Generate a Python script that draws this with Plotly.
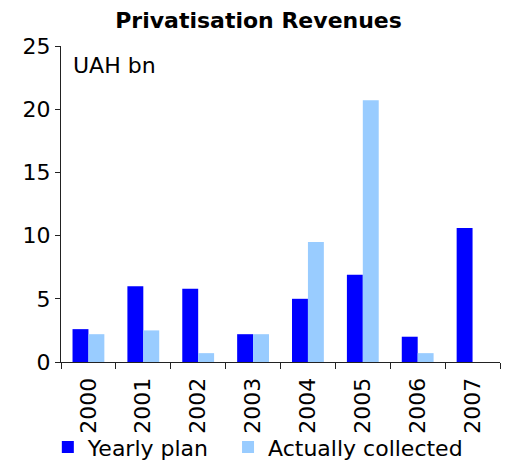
import plotly.graph_objects as go

years = ["2000", "2001", "2002", "2003", "2004", "2005", "2006", "2007"]
yearly_plan = [2.6, 6.0, 5.8, 2.2, 5.0, 6.9, 2.0, 10.6]
actually_collected = [2.2, 2.5, 0.7, 2.2, 9.5, 20.7, 0.7, None]
series_names = ["Yearly plan", "Actually collected"]

FONT = "DejaVu Sans, Verdana, sans-serif"

fig = go.Figure()
# non-breaking spaces widen the first legend entry a little
fig.add_trace(go.Bar(x=years, y=yearly_plan, name=series_names[0] + "\u00a0\u00a0",
                     marker=dict(color="#0000FF", line=dict(width=0))))
fig.add_trace(go.Bar(x=years, y=actually_collected, name=series_names[1],
                     marker=dict(color="#99CCFF", line=dict(width=0))))

fig.update_layout(
    width=507, height=468,
    margin=dict(l=61, r=7, t=46, b=106, autoexpand=False),
    paper_bgcolor="white", plot_bgcolor="white",
    barmode="group", bargap=0.42, bargroupgap=0,
    font=dict(family=FONT, size=22, color="#000000"),
    title=dict(text="<b>Privatisation Revenues</b>", x=0.51, xanchor="center",
               y=1 - 20 / 468, yanchor="middle",
               font=dict(family=FONT, size=22, color="#000000")),
    showlegend=True,
    legend=dict(orientation="h", x=-0.03, xanchor="left", y=-0.336, yanchor="bottom",
                font=dict(family=FONT, size=22), traceorder="normal",
                bgcolor="rgba(0,0,0,0)", itemclick=False),
    annotations=[dict(text="UAH bn", xref="paper", yref="paper", x=0.022, y=0.985,
                      xanchor="left", yanchor="top", showarrow=False,
                      font=dict(family=FONT, size=22, color="#000000"))],
)

fig.update_xaxes(type="category", automargin=False, showline=True, linecolor="#222222",
                 linewidth=1, ticks="outside", tickson="boundaries", ticklen=6,
                 tickcolor="#222222", tickangle=-90, ticklabelstandoff=6,
                 showgrid=False, zeroline=False, tickfont=dict(family=FONT, size=22))
fig.update_yaxes(range=[0, 25], dtick=5, automargin=False, showline=True,
                 linecolor="#222222", linewidth=1, ticks="outside", ticklen=5,
                 tickcolor="#222222", showgrid=False, zeroline=False,
                 tickfont=dict(family=FONT, size=22))

fig.write_html("out.html")
